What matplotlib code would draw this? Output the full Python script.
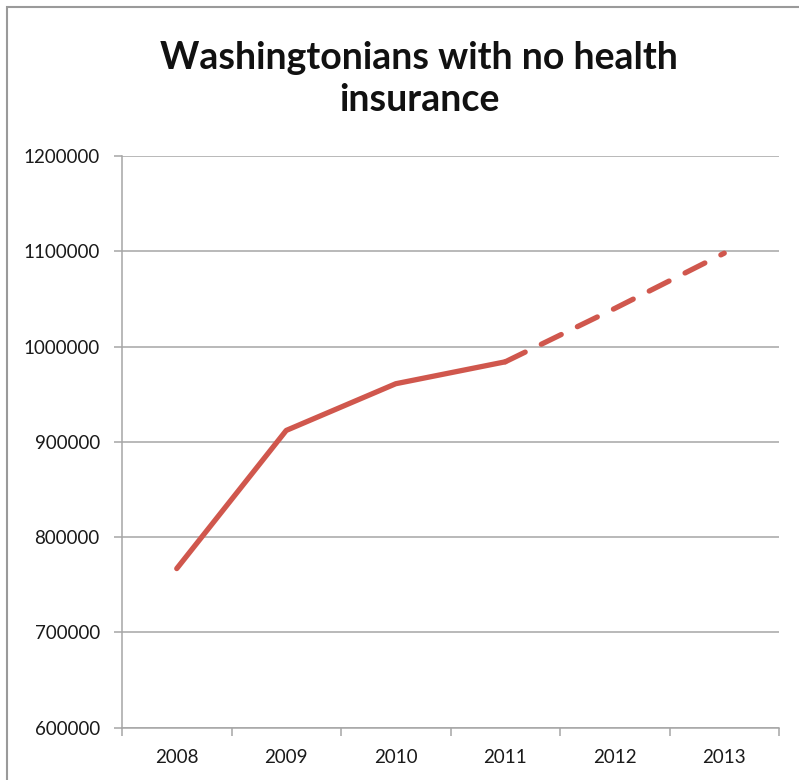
import matplotlib
matplotlib.use('Agg')
import matplotlib.pyplot as plt
from matplotlib.patches import Rectangle

# ----------------------------------------------
# data
years = ['2008', '2009', '2010', '2011', '2012', '2013']
uninsured = [767000, 912000, 961000, 984000, 1040000, 1098000]
n_actual = 4  # 2008-2011 measured, rest projected
y_ticks = [600000, 700000, 800000, 900000, 1000000, 1100000, 1200000]

line_color = '#D0574D'
grid_color = '#A6A6A6'

plt.rcParams['font.family'] = ['Lato', 'DejaVu Sans']

fig = plt.figure(figsize=(7.99, 7.80), dpi=100)
W, H = 799, 780
ax = fig.add_axes([122 / W, 1 - 727.7 / H, (779 - 122) / W, (727.7 - 156) / H])

x = list(range(len(years)))
ax.plot(x[:n_actual], uninsured[:n_actual], color=line_color, lw=3.8,
        solid_capstyle='round', solid_joinstyle='round', zorder=3)
ax.plot(x[n_actual - 1:], uninsured[n_actual - 1:], color=line_color, lw=3.8,
        linestyle=(0, (4.2, 3.4)), dash_capstyle='round', zorder=3)

ax.set_xlim(-0.5, len(years) - 0.5)
ax.set_ylim(y_ticks[0], y_ticks[-1])
ax.set_yticks(y_ticks)
ax.set_yticklabels([str(v) for v in y_ticks])
ax.yaxis.grid(True, color=grid_color, lw=1.1)
ax.set_axisbelow(True)

# category labels centred, tick marks between categories
ax.set_xticks(x)
ax.set_xticklabels(years)
ax.tick_params(axis='x', length=0, pad=15, labelsize=13.5, colors='#1a1a1a')
ax.set_xticks([i - 0.5 for i in range(len(years) + 1)], minor=True)
ax.tick_params(axis='x', which='minor', length=6, width=1.1, color=grid_color, direction='out')
ax.tick_params(axis='y', length=6, width=1.1, color=grid_color, pad=10,
               labelsize=13.5, labelcolor='#1a1a1a')

for s in ['top', 'right']:
    ax.spines[s].set_visible(False)
for s in ['left', 'bottom']:
    ax.spines[s].set_color(grid_color)
    ax.spines[s].set_linewidth(1.1)

fig.text(419 / W, 1 - 79 / H, 'Washingtonians with no health\ninsurance',
         ha='center', va='center', fontsize=27, fontweight='bold',
         color='#111111', linespacing=1.3)

# outer chart frame (right and bottom edges fall outside the picture)
fig.patches.append(Rectangle((7 / W, -0.1), 1.2, 1 - 7 / H + 0.1, transform=fig.transFigure,
                             fill=False, edgecolor='#9a9a9a', lw=1.5))

fig.savefig('out.png', dpi=100)
